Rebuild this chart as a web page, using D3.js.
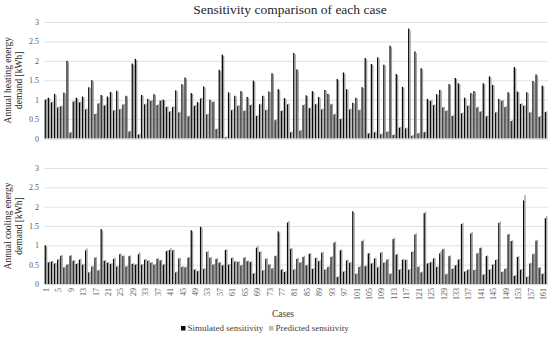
<html lang="en">
  <head>
    <meta charset="utf-8">
    <title>Sensitivity comparison</title>
    <script src="https://d3js.org/d3.v7.min.js"></script>
    <style>
      body { margin: 0; background: #fff; }
      text { font-family: "Liberation Serif", "Times New Roman", serif; }
    </style>
  </head>
  <body>
    <script type="text/javascript">
      var w = 550;
      var h = 339;
      var margin = {left: 44, right: 2};

      var cases = d3.range(1, 163);
      var tickCases = cases.filter(function(d){ return (d - 1) % 4 == 0; });
      var yTicks = [0, 0.5, 1, 1.5, 2, 2.5, 3];
      var series = ["Simulated sensitivity", "Predicted sensitivity"];
      var colors = ["#0a0a0a", "#9c9c9c"];
      var legendColors = ["#0a0a0a", "#bdbdbd"];

      // heating
      var heatSim = [1.0,1.05,0.93,1.15,0.8,0.83,1.18,2.0,0.15,0.95,1.05,0.93,1.08,0.75,1.32,1.5,0.63,0.9,1.12,0.85,1.08,1.2,0.72,1.23,0.75,0.87,1.1,0.18,1.93,2.05,0.1,1.12,0.88,1.02,0.97,1.14,0.86,
        0.97,1.0,0.81,0.69,0.81,1.24,0.67,1.4,1.57,0.57,1.17,0.84,0.94,1.03,1.34,0.62,1.0,0.94,0.24,1.77,2.16,0.03,1.19,0.73,1.1,0.84,1.22,0.71,1.07,0.86,1.49,0.58,0.88,1.1,0.73,1.21,1.68,0.47,1.27,0.71,1.04,0.88,0.16,2.2,
        1.78,0.2,0.86,1.11,0.78,1.22,0.88,1.07,0.75,1.25,1.15,0.88,0.62,1.53,0.5,1.7,1.27,0.75,0.92,1.05,0.73,1.32,2.07,0.13,1.92,0.16,2.09,0.11,1.9,0.17,2.39,0.09,1.66,0.28,1.33,0.26,2.83,0.07,2.24,0.13,1.81,0.16,1.02,
        0.97,0.86,1.14,1.25,0.8,0.71,1.4,0.58,1.56,1.42,0.65,1.05,0.84,1.17,1.22,0.8,0.69,1.42,0.57,1.6,1.38,0.67,1.02,0.97,0.81,1.19,0.45,1.84,1.21,0.89,0.84,1.19,0.67,1.48,1.65,0.56,1.36,0.68];
      var heatPred = [1.02,1.03,0.95,1.12,0.82,0.85,1.16,1.97,0.17,0.97,1.03,0.95,1.06,0.77,1.3,1.47,0.65,0.92,1.1,0.87,1.06,1.18,0.74,1.2,0.77,0.89,1.08,0.2,1.9,2.02,0.12,1.1,0.9,1.0,0.99,1.12,0.88,
        0.99,0.98,0.83,0.71,0.83,1.21,0.69,1.37,1.54,0.59,1.15,0.86,0.92,1.05,1.31,0.64,0.98,0.96,0.26,1.74,2.13,0.05,1.17,0.75,1.08,0.86,1.2,0.73,1.05,0.88,1.46,0.6,0.9,1.08,0.75,1.19,1.65,0.49,1.25,0.73,1.02,0.9,0.18,2.17,
        1.75,0.22,0.88,1.09,0.8,1.2,0.9,1.05,0.77,1.23,1.13,0.9,0.64,1.5,0.52,1.67,1.25,0.77,0.9,1.03,0.75,1.3,2.04,0.15,1.89,0.18,2.06,0.13,1.87,0.19,2.35,0.11,1.63,0.3,1.31,0.28,2.78,0.09,2.2,0.15,1.78,0.18,1.0,
        0.99,0.88,1.12,1.23,0.82,0.73,1.38,0.6,1.53,1.4,0.67,1.03,0.86,1.15,1.2,0.82,0.71,1.4,0.59,1.57,1.36,0.69,1.0,0.99,0.83,1.17,0.47,1.81,1.19,0.91,0.86,1.17,0.69,1.45,1.62,0.58,1.34,0.7];

      // cooling
      var coolSim = [1.0,0.56,0.58,0.53,0.63,0.73,0.43,0.5,0.73,0.6,0.52,0.63,0.5,0.87,0.3,0.45,0.68,0.35,1.42,0.6,0.55,0.52,0.65,0.45,0.77,0.72,0.45,0.72,0.52,0.5,0.77,0.5,0.63,0.6,0.55,0.5,0.65,
        0.61,0.5,0.85,0.88,0.87,0.3,0.66,0.44,0.43,0.68,1.39,0.37,0.33,1.48,0.39,0.83,0.68,0.5,0.65,0.55,0.48,0.88,0.5,0.67,0.58,0.57,0.48,0.68,0.59,0.57,0.27,0.94,0.83,0.35,0.65,0.5,0.4,0.72,1.36,0.37,0.31,1.59,
        0.91,0.37,0.65,0.55,0.7,0.48,0.78,0.39,0.67,0.59,0.81,0.37,0.44,0.7,1.07,0.18,0.87,0.32,0.61,0.55,1.88,0.26,0.44,1.11,0.46,0.79,0.53,0.66,0.43,0.81,0.55,0.63,0.26,1.16,0.76,0.37,0.63,0.62,0.37,0.83,1.28,0.44,0.3,1.83,
        0.53,0.56,0.66,0.44,0.79,0.9,0.25,0.72,0.39,0.48,0.63,1.55,0.32,0.37,1.31,0.36,0.79,0.93,0.24,0.72,0.37,0.5,0.62,1.58,0.31,0.39,1.28,1.11,0.21,0.7,0.37,2.16,0.18,0.53,0.77,1.12,0.42,0.26,1.7];
      var coolPred = [0.97,0.58,0.6,0.55,0.65,0.75,0.45,0.52,0.75,0.62,0.54,0.65,0.52,0.92,0.32,0.47,0.7,0.37,1.38,0.62,0.57,0.54,0.68,0.47,0.79,0.74,0.47,0.74,0.54,0.52,0.82,0.52,0.65,0.62,0.57,0.52,0.67,
        0.63,0.52,0.87,0.93,0.89,0.32,0.68,0.46,0.45,0.7,1.36,0.39,0.35,1.45,0.41,0.85,0.7,0.52,0.67,0.57,0.5,0.9,0.52,0.69,0.6,0.59,0.5,0.7,0.61,0.59,0.29,0.99,0.85,0.37,0.67,0.52,0.42,0.74,1.33,0.39,0.33,1.63,
        0.93,0.39,0.67,0.57,0.72,0.5,0.8,0.41,0.69,0.61,0.83,0.39,0.46,0.72,1.1,0.2,0.89,0.34,0.63,0.57,1.84,0.28,0.46,1.15,0.48,0.81,0.55,0.68,0.45,0.83,0.57,0.65,0.28,1.2,0.78,0.39,0.65,0.64,0.39,0.85,1.31,0.46,0.32,1.87,
        0.55,0.58,0.68,0.46,0.85,0.92,0.27,0.74,0.41,0.5,0.65,1.58,0.34,0.39,1.34,0.38,0.81,0.95,0.26,0.74,0.39,0.52,0.64,1.62,0.33,0.41,1.3,1.13,0.23,0.72,0.39,2.3,0.2,0.55,0.79,1.14,0.44,0.28,1.75];

      var svg = d3.select("body")
          .append("svg")
          .attr("width", w)
          .attr("height", h);

      var xScale = d3.scaleBand()
          .domain(cases)
          .range([margin.left, w - margin.right])
          .paddingInner(0.15)
          .paddingOuter(0.2);
      var xInner = d3.scaleBand()
          .domain([0, 1])
          .range([0, xScale.bandwidth()]);

      svg.append("text")
          .attr("x", 290)
          .attr("y", 14)
          .attr("text-anchor", "middle")
          .style("font-size", "13.5px")
          .style("fill", "#262626")
          .text("Sensitivity comparison of each case");

      function drawPanel(top, bottom, sim, pred, label1, label2) {
        var yScale = d3.scaleLinear().domain([0, 3]).range([bottom, top]);
        var g = svg.append("g");

        var yAxis = d3.axisLeft(yScale)
            .tickValues(yTicks)
            .tickSize(-(w - margin.right - margin.left))
            .tickFormat(d3.format(""));
        var ga = g.append("g")
            .attr("transform", "translate(" + margin.left + ",0)")
            .call(yAxis);
        ga.select(".domain").remove();
        ga.selectAll("line").style("stroke", "#d9d9d9").style("stroke-width", 0.8);
        ga.selectAll("text")
            .attr("x", -5)
            .style("font-size", "8px")
            .style("fill", "#595959");

        var rows = cases.map(function(c, i){ return {c: c, v: [sim[i], pred[i]]}; });
        var grp = g.selectAll(".case")
            .data(rows)
            .enter()
            .append("g")
            .attr("transform", function(d){ return "translate(" + xScale(d.c) + ",0)"; });
        grp.selectAll("rect")
            .data(function(d){ return d.v.map(function(v, k){ return {k: k, v: v}; }); })
            .enter()
            .append("rect")
            .attr("x", function(d){ return xInner(d.k); })
            .attr("width", xInner.bandwidth())
            .attr("y", function(d){ return yScale(d.v); })
            .attr("height", function(d){ return bottom - yScale(d.v); })
            .attr("fill", function(d){ return colors[d.k]; });

        g.append("line")
            .attr("x1", margin.left)
            .attr("x2", w - margin.right)
            .attr("y1", bottom + 0.5)
            .attr("y2", bottom + 0.5)
            .style("stroke", "#d9d9d9");

        var cy = (top + bottom) / 2;
        var lab = g.append("text")
            .attr("transform", "translate(11," + cy + ") rotate(-90)")
            .attr("text-anchor", "middle")
            .style("font-size", "9.5px")
            .style("fill", "#262626");
        lab.append("tspan").attr("x", 0).attr("dy", 0).text(label1);
        lab.append("tspan").attr("x", 0).attr("dy", 11).text(label2);
        return yScale;
      }

      drawPanel(22, 138.5, heatSim, heatPred, "Annual heating energy", "demand [kWh]");
      drawPanel(168, 284, coolSim, coolPred, "Annual cooling energy", "demand [kWh]");

      // x tick labels (rotated)
      svg.selectAll(".xlab")
          .data(tickCases)
          .enter()
          .append("text")
          .attr("transform", function(d){
            return "translate(" + (xScale(d) + xScale.bandwidth() / 2 + 3) + ",288) rotate(-90)";
          })
          .attr("text-anchor", "end")
          .style("font-size", "8px")
          .style("fill", "#595959")
          .text(function(d){ return d; });

      svg.append("text")
          .attr("x", 283)
          .attr("y", 317)
          .attr("text-anchor", "middle")
          .style("font-size", "9.5px")
          .style("fill", "#404040")
          .text("Cases");

      // legend
      var legX = [181, 269];
      var leg = svg.selectAll(".leg")
          .data(series)
          .enter()
          .append("g")
          .attr("transform", function(d, i){ return "translate(" + legX[i] + ",331)"; });
      leg.append("rect")
          .attr("x", 0)
          .attr("y", -5)
          .attr("width", 4.5)
          .attr("height", 4.5)
          .attr("fill", function(d, i){ return legendColors[i]; });
      leg.append("text")
          .attr("x", 6.5)
          .attr("y", 0)
          .style("font-size", "9px")
          .style("fill", "#404040")
          .text(function(d){ return d; });
    </script>
  </body>
</html>
